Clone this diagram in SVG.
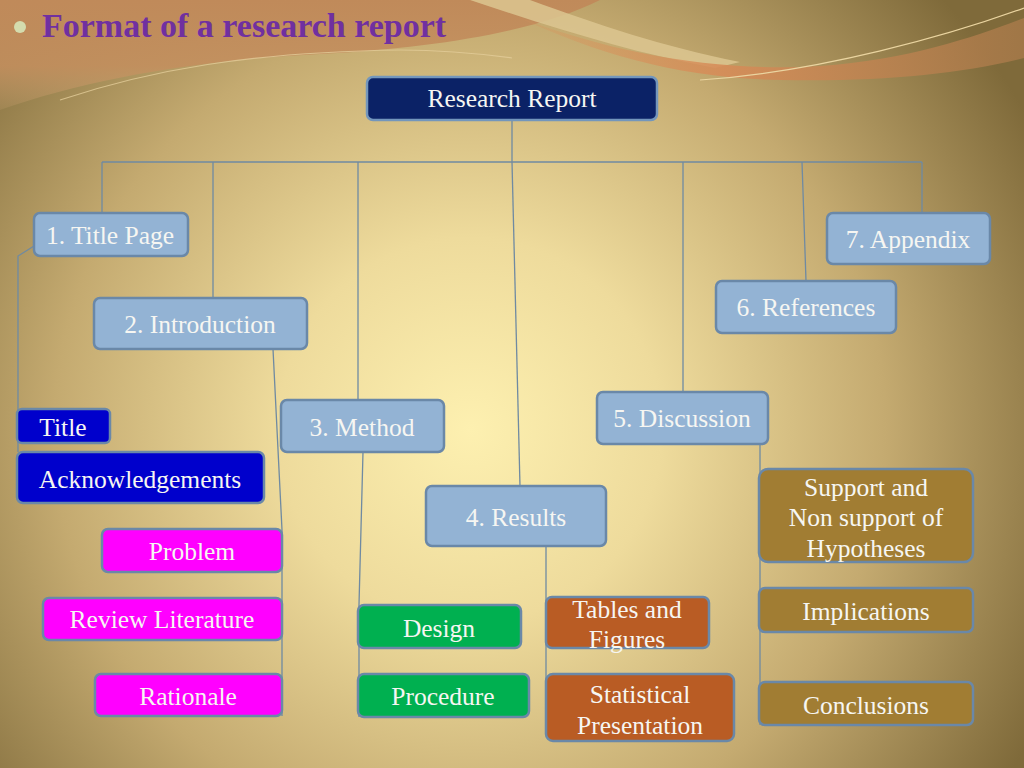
<svg xmlns="http://www.w3.org/2000/svg" width="1024" height="768" viewBox="0 0 1024 768">
<defs>
<radialGradient id="bg" cx="470" cy="430" r="640" gradientUnits="userSpaceOnUse">
<stop offset="0" stop-color="#fdf0b0"/>
<stop offset="0.3" stop-color="#eedb9c"/>
<stop offset="0.65" stop-color="#c4aa70"/>
<stop offset="1" stop-color="#7f6a3a"/>
</radialGradient>
<linearGradient id="topL" x1="0" y1="0" x2="0" y2="1">
<stop offset="0" stop-color="#c08a5a"/>
<stop offset="0.6" stop-color="#c38f5e" stop-opacity="0.9"/>
<stop offset="1" stop-color="#c9a070" stop-opacity="0.2"/>
</linearGradient>
<linearGradient id="topR" x1="0" y1="0" x2="1" y2="0">
<stop offset="0" stop-color="#d9925a" stop-opacity="0.2"/>
<stop offset="0.4" stop-color="#d68c58" stop-opacity="0.9"/>
<stop offset="1" stop-color="#a87a4a" stop-opacity="0.8"/>
</linearGradient>
<style>
.lnk{fill:none;stroke:#6f8aa2;stroke-width:1.3}
.bx{stroke:#6a88a8;stroke-width:2.5}
.main{fill:#93b3d4}
.rr{fill:#0b2266;stroke:#7396bc;stroke-width:2.5}
.blue{fill:#0000cc}
.mag{fill:#ff00ff}
.grn{fill:#00b050}
.org{fill:#b95c24}
.gld{fill:#a17d33}
text{font-family:"Liberation Serif","Times New Roman",serif;font-size:25.5px;fill:#f6f6f2;text-anchor:middle}
</style>
</defs>
<rect width="1024" height="768" fill="url(#bg)"/>
<path d="M0,0 H600 C540,30 440,48 320,54 C200,60 90,78 0,110 Z" fill="url(#topL)"/>
<path d="M470,0 H530 C600,25 660,46 740,62 L715,68 C630,52 560,30 470,0 Z" fill="#dcc690" opacity="0.85"/>
<path d="M520,18 C620,55 720,72 820,66 C910,60 980,35 1024,18 V58 C960,74 880,82 780,80 C680,78 600,55 520,18 Z" fill="url(#topR)"/>
<path d="M700,80 C820,72 950,35 1024,8" fill="none" stroke="#ead4a0" stroke-width="1.2"/>
<path d="M60,100 C150,70 250,52 400,50 C450,50 490,55 512,58" fill="none" stroke="#e2cc98" stroke-width="1.2" opacity="0.8"/>

<g id="heading">
<circle cx="20" cy="27" r="6" fill="#d4dcae"/>
<text x="42" y="37" style="font-size:34px;font-weight:bold;fill:#7030a0;text-anchor:start">Format of a research report</text>
</g>

<g id="connectors">
<path class="lnk" d="M512,120 V162"/>
<path class="lnk" d="M102,162 H922"/>
<path class="lnk" d="M102,162 V213"/>
<path class="lnk" d="M213,162 V298"/>
<path class="lnk" d="M358,162 V400"/>
<path class="lnk" d="M512,162 L520,486"/>
<path class="lnk" d="M683,162 V392"/>
<path class="lnk" d="M802,162 L806,281"/>
<path class="lnk" d="M922,162 V213"/>
<path class="lnk" d="M34,246 L18,256 V452"/>
<path class="lnk" d="M273,349 L282,530 V716"/>
<path class="lnk" d="M363,452 L359,605 V717"/>
<path class="lnk" d="M546,546 V700"/>
<path class="lnk" d="M760,444 V725"/>
</g>

<g id="research-report"><rect class="rr" x="367" y="77" width="290" height="43" rx="6"/><text x="512" y="107">Research Report</text></g>
<g id="title-page"><rect class="bx main" x="34" y="213" width="154" height="43" rx="6"/><text x="110" y="244">1. Title Page</text></g>
<g id="introduction"><rect class="bx main" x="94" y="298" width="213" height="51" rx="6"/><text x="200" y="333">2. Introduction</text></g>
<g id="method"><rect class="bx main" x="281" y="400" width="163" height="52" rx="6"/><text x="362" y="436">3. Method</text></g>
<g id="results"><rect class="bx main" x="426" y="486" width="180" height="60" rx="6"/><text x="516" y="526">4. Results</text></g>
<g id="discussion"><rect class="bx main" x="597" y="392" width="171" height="52" rx="6"/><text x="682" y="427">5. Discussion</text></g>
<g id="references"><rect class="bx main" x="716" y="281" width="180" height="52" rx="6"/><text x="806" y="316">6. References</text></g>
<g id="appendix"><rect class="bx main" x="827" y="213" width="163" height="51" rx="6"/><text x="908" y="248">7. Appendix</text></g>

<g id="title"><rect class="bx blue" x="17" y="409" width="93" height="34" rx="5"/><text x="63" y="436">Title</text></g>
<g id="acknowledgements"><rect class="bx blue" x="17" y="452" width="247" height="51" rx="6"/><text x="140" y="488">Acknowledgements</text></g>
<g id="problem"><rect class="bx mag" x="102" y="529" width="180" height="43" rx="6"/><text x="192" y="560">Problem</text></g>
<g id="review-literature"><rect class="bx mag" x="43" y="598" width="239" height="42" rx="6"/><text x="162" y="628">Review Literature</text></g>
<g id="rationale"><rect class="bx mag" x="95" y="674" width="187" height="42" rx="6"/><text x="188" y="705">Rationale</text></g>
<g id="design"><rect class="bx grn" x="358" y="605" width="163" height="43" rx="6"/><text x="439" y="637">Design</text></g>
<g id="procedure"><rect class="bx grn" x="358" y="674" width="171" height="43" rx="6"/><text x="443" y="705">Procedure</text></g>
<g id="tables-figures"><rect class="bx org" x="546" y="597" width="163" height="51" rx="6"/><text x="627" y="618">Tables and</text><text x="627" y="648">Figures</text></g>
<g id="statistical"><rect class="bx org" x="546" y="674" width="188" height="67" rx="7"/><text x="640" y="703">Statistical</text><text x="640" y="734">Presentation</text></g>
<g id="support"><rect class="bx gld" x="759" y="469" width="214" height="93" rx="9"/><text x="866" y="496">Support and</text><text x="866" y="526">Non support of</text><text x="866" y="557">Hypotheses</text></g>
<g id="implications"><rect class="bx gld" x="759" y="588" width="214" height="44" rx="6"/><text x="866" y="620">Implications</text></g>
<g id="conclusions"><rect class="bx gld" x="759" y="682" width="214" height="43" rx="6"/><text x="866" y="714">Conclusions</text></g>
</svg>
